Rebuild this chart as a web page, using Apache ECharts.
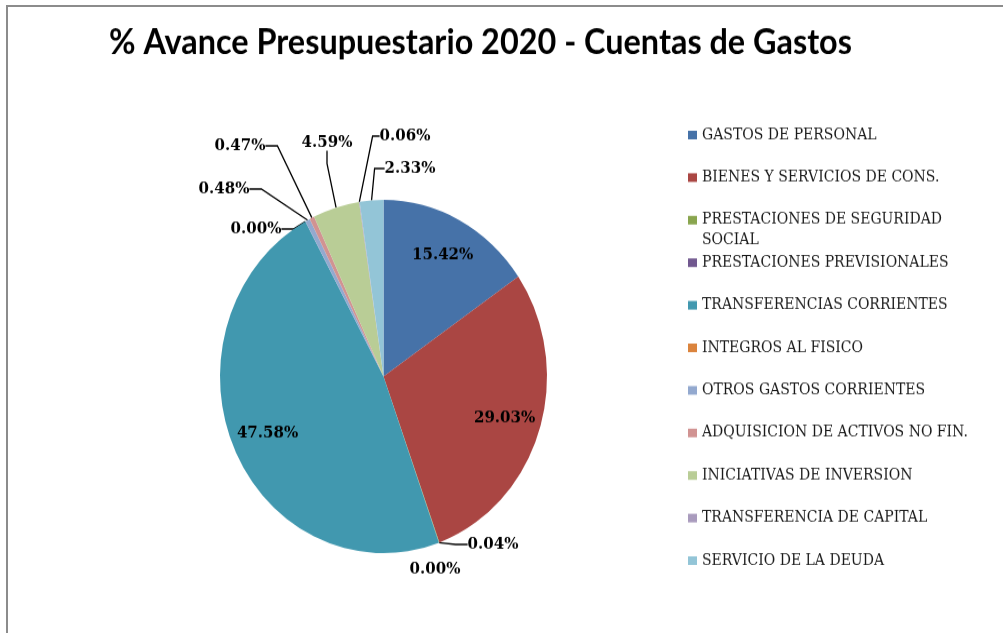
<!DOCTYPE html>
<html><head><meta charset="utf-8">
<script src="https://cdn.jsdelivr.net/npm/echarts@6/dist/echarts.min.js"></script>
<style>
html,body{margin:0;padding:0;background:#fff;overflow:hidden;}
#frame{position:absolute;left:6px;top:5px;width:1000px;height:630px;border-top:2px solid #8c8c8c;border-left:2px solid #8c8c8c;}
#chart{position:absolute;left:0;top:0;width:1003px;height:586px;transform:scaleY(1.0802);transform-origin:0 0;}
</style></head><body>
<div id="frame"></div><div id="chart"></div>
<script>
const titleText = '% Avance Presupuestario 2020 - Cuentas de Gastos';
const categories = ['GASTOS DE PERSONAL', 'BIENES Y SERVICIOS DE CONS.', 'PRESTACIONES DE SEGURIDAD SOCIAL', 'PRESTACIONES PREVISIONALES', 'TRANSFERENCIAS CORRIENTES', 'INTEGROS AL FISICO', 'OTROS GASTOS CORRIENTES', 'ADQUISICION DE ACTIVOS NO FIN.', 'INICIATIVAS DE INVERSION', 'TRANSFERENCIA DE CAPITAL', 'SERVICIO DE LA DEUDA'];
const legendLabels = ['GASTOS DE PERSONAL', 'BIENES Y SERVICIOS DE CONS.', 'PRESTACIONES DE SEGURIDAD\nSOCIAL', 'PRESTACIONES PREVISIONALES', 'TRANSFERENCIAS CORRIENTES', 'INTEGROS AL FISICO', 'OTROS GASTOS CORRIENTES', 'ADQUISICION DE ACTIVOS NO FIN.', 'INICIATIVAS DE INVERSION', 'TRANSFERENCIA DE CAPITAL', 'SERVICIO DE LA DEUDA'];
const values = [15.42, 29.03, 0.04, 0.00, 47.58, 0.00, 0.48, 0.47, 4.59, 0.06, 2.33];
const colors = ['#4672A8', '#AA4643', '#89A54E', '#71588F', '#4198AF', '#DB843D', '#93A9CF', '#D19392', '#B9CD96', '#A99BBD', '#93C5D7'];
// label anchor spots for outside labels (chart coords), null = inside label
const labelSpots = [null, null, [493, 504], [435, 527], null, [256, 212], [224, 175], [240, 135], [327, 132], [405, 126], [410, 156]];
const showLine = [false, false, true, false, false, true, true, true, true, true, true];
const lineLen2 = [12, 12, 12, 12, 12, 12, 12, 12, 12, 7, 10];

const CX = 383.5, CY = 348.6, R = 163.5;
const INNER_K = 0.75 / 0.5;
const LEG_FIRST = 125, LEG_GAP = 39.4, LINE_H = 19;

const chart = echarts.init(document.getElementById('chart'), null, {renderer: 'canvas'});

const legends = categories.map((name, i) => {
  const multi = legendLabels[i].indexOf('\n') >= 0;
  const half = multi ? LINE_H * 1.5 : LINE_H / 2;
  return {
    data: [name],
    orient: 'vertical',
    left: 688,
    top: LEG_FIRST + i * LEG_GAP - half,
    padding: 0,
    itemGap: 0,
    itemWidth: 9,
    itemHeight: 8,
    icon: 'rect',
    selectedMode: false,
    formatter: () => (multi ? ' \n' : '') + legendLabels[i],
    textStyle: {
      fontFamily: 'DejaVu Serif',
      fontSize: 14,
      color: '#1a1a1a',
      lineHeight: LINE_H
    }
  };
});

chart.setOption({
  animation: false,
  color: colors,
  title: {
    text: titleText,
    left: 104,
    top: 19,
    textStyle: {fontFamily: 'Lato', fontWeight: 'bold', fontSize: 32.4, color: '#000'}
  },
  legend: legends,
  series: [{
    type: 'pie',
    center: [CX, CY],
    radius: R,
    startAngle: 90,
    clockwise: true,
    avoidLabelOverlap: false,
    itemStyle: {borderWidth: 0},
    label: {
      fontFamily: 'DejaVu Serif',
      fontWeight: 'bold',
      fontSize: 15,
      color: '#000',
      formatter: p => p.value.toFixed(2) + '%'
    },
    labelLine: {length: 10, length2: 12, lineStyle: {color: '#000', width: 1.3}},
    labelLayout: function (params) {
      const spot = labelSpots[params.dataIndex];
      if (spot) {
        return {x: spot[0], y: spot[1], align: 'center', verticalAlign: 'middle'};
      }
      const r = params.labelRect;
      const lx = r.x + r.width / 2, ly = r.y + r.height / 2;
      return {x: CX + (lx - CX) * INNER_K, y: CY + (ly - CY) * INNER_K, align: 'center', verticalAlign: 'middle'};
    },
    data: categories.map((name, i) => ({
      name: name,
      value: values[i],
      label: {position: labelSpots[i] ? 'outside' : 'inside'},
      labelLine: {show: showLine[i], length2: lineLen2[i]}
    }))
  }]
});
</script>
</body></html>
